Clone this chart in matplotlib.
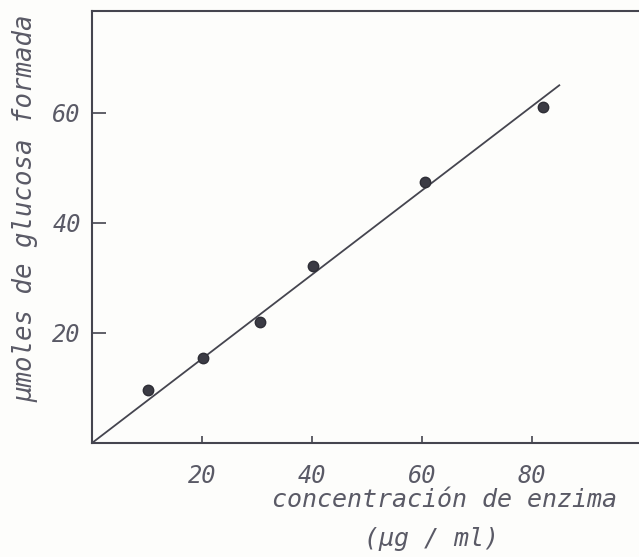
import matplotlib
matplotlib.use("Agg")
import matplotlib.pyplot as plt

# enzyme concentration (ug/ml) vs umoles of glucose formed
conc = [10.2, 20.2, 30.5, 40.2, 60.5, 82.0]
glucosa = [9.6, 15.5, 22.0, 32.2, 47.5, 61.0]

# hand drawn straight line through the origin
linea_x = [0, 85]
linea_y = [0, 65]

xticks = [20, 40, 60, 80]
yticks = [20, 40, 60]

ink = "#45454f"
txt = "#5a5a66"
fuente = "DejaVu Sans Mono"

fig = plt.figure(figsize=(6.39, 5.57), dpi=100)
fig.patch.set_facecolor("#fdfdfb")

# axes box: left spine at x=92px, bottom at y=443px, top at y=11px
ax = fig.add_axes([92 / 639, (557 - 443) / 557, (639 - 92) / 639, (443 - 11) / 557])
ax.set_facecolor("#fdfdfb")

ax.plot(linea_x, linea_y, color=ink, linewidth=1.3)
ax.plot(conc, glucosa, linestyle="none", marker="o", markersize=7.5,
        color="#3b3b44", markeredgecolor="#2e2e36")

ax.set_xlim(0, 99.5)
ax.set_ylim(0, 78.5)

ax.set_xticks(xticks)
ax.set_yticks(yticks)
ax.set_xticklabels([str(t) for t in xticks])
ax.set_yticklabels([str(t) for t in yticks])

ax.tick_params(axis="x", direction="in", length=5, width=1.2, color=ink,
               pad=15, labelsize=17, labelcolor=txt)
ax.tick_params(axis="y", direction="in", length=10, width=1.2, color=ink,
               pad=8, labelsize=17, labelcolor=txt)
for lab in ax.get_xticklabels() + ax.get_yticklabels():
    lab.set_family(fuente)
    lab.set_style("italic")

ax.spines["right"].set_visible(False)
for s in ["left", "bottom", "top"]:
    ax.spines[s].set_color(ink)
    ax.spines[s].set_linewidth(1.5)

# axis titles
fig.text(25 / 639, 1 - 208 / 557, "µmoles de glucosa formada", rotation=90,
         ha="center", va="center", fontsize=18.5, color=txt,
         family=fuente, style="italic")
fig.text(445 / 639, 1 - 500 / 557, "concentración de enzima",
         ha="center", va="center", fontsize=18, color=txt,
         family=fuente, style="italic")
fig.text(431 / 639, 1 - 539 / 557, "(µg / ml)",
         ha="center", va="center", fontsize=18, color=txt,
         family=fuente, style="italic")

plt.savefig("out.png", dpi=100, facecolor=fig.get_facecolor())
